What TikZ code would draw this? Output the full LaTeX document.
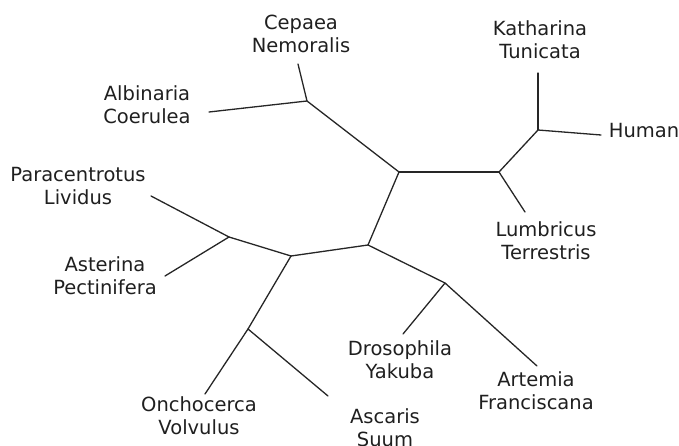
\documentclass[tikz,border=0pt]{standalone}
\usepackage{fontspec}
\setmainfont{DejaVu Sans}
\begin{document}
\begin{tikzpicture}[x=1pt,y=-1pt,
  lbl/.style={align=center, font=\fontsize{19.5}{23}\selectfont, inner sep=0pt, anchor=base, text=black!88},
  br/.style={line width=1.3pt, draw=black!85, line cap=round}]
\useasboundingbox (0,0) rectangle (679,446);
% labels (anchor = baseline of last line)
\node[lbl] (cep) at (301,53) {Cepaea\\Nemoralis};
\node[lbl] (alb) at (147,124) {Albinaria\\Coerulea};
\node[lbl] (par) at (78,205) {Paracentrotus\\Lividus};
\node[lbl] (kat) at (540,59) {Katharina\\Tunicata};
\node[lbl] (hum) at (644,138) {Human};
\node[lbl] (lum) at (546,259) {Lumbricus\\Terrestris};
\node[lbl] (ast) at (105,294) {Asterina\\Pectinifera};
\node[lbl] (onc) at (199,434) {Onchocerca\\Volvulus};
\node[lbl] (asc) at (385,446) {Ascaris\\Suum};
\node[lbl] (dro) at (400,378) {Drosophila\\Yakuba};
\node[lbl] (art) at (536,409) {Artemia\\Franciscana};
% inner junctions
\coordinate (j1) at (307,101);
\coordinate (j2) at (399,172);
\coordinate (j3) at (499,172);
\coordinate (j4) at (538,130);
\coordinate (j5) at (368,245);
\coordinate (j6) at (291,256);
\coordinate (j7) at (229,237);
\coordinate (j8) at (248,329);
\coordinate (j9) at (445,283);
% leaf tips
\coordinate (tcep) at (298,64);
\coordinate (talb) at (209,112);
\coordinate (tkat) at (538,73);
\coordinate (thum) at (601,135);
\coordinate (tlum) at (525,212);
\coordinate (tpar) at (151,196);
\coordinate (tast) at (165,276);
\coordinate (tonc) at (205,394);
\coordinate (tasc) at (328,396);
\coordinate (tdro) at (403,334);
\coordinate (tart) at (537,366);
% branches
\draw[br] (tcep) -- (j1);
\draw[br] (talb) -- (j1);
\draw[br] (j1) -- (j2);
\draw[br] (j2) -- (j3);
\draw[br] (j3) -- (j4);
\draw[br] (j4) -- (tkat);
\draw[br] (j4) -- (thum);
\draw[br] (j3) -- (tlum);
\draw[br] (j2) -- (j5);
\draw[br] (j5) -- (j6);
\draw[br] (j6) -- (j7);
\draw[br] (j7) -- (tpar);
\draw[br] (j7) -- (tast);
\draw[br] (j6) -- (j8);
\draw[br] (j8) -- (tonc);
\draw[br] (j8) -- (tasc);
\draw[br] (j5) -- (j9);
\draw[br] (j9) -- (tdro);
\draw[br] (j9) -- (tart);
\end{tikzpicture}
\end{document}
